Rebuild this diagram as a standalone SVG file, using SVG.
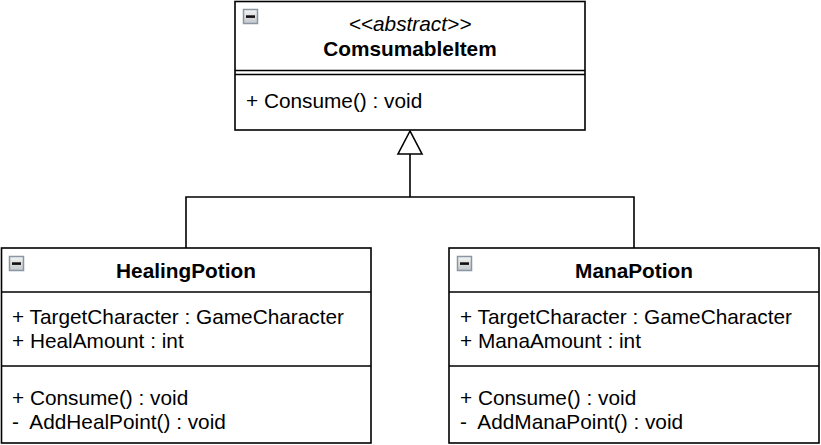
<svg xmlns="http://www.w3.org/2000/svg" width="821" height="445" viewBox="0 0 821 445">
<defs>
<linearGradient id="ig" x1="0" y1="0" x2="0" y2="1">
<stop offset="0" stop-color="#f4f4f4"/>
<stop offset="1" stop-color="#c4c8cc"/>
</linearGradient>
<g id="icon">
<rect x="0.5" y="0.5" width="14" height="14" fill="url(#ig)" stroke="#8a96a4" stroke-width="1.5"/>
<rect x="3" y="6.3" width="9" height="2.6" fill="#111"/>
</g>
</defs>
<style>
.box{fill:#fff;stroke:#000;stroke-width:1.6}
.ln{stroke:#000;stroke-width:1.6;fill:none}
text{font-family:"Liberation Sans",Arial,sans-serif;font-size:20.8px;fill:#000;white-space:pre}
.t{font-weight:bold;text-anchor:middle}
.st{font-style:italic;text-anchor:middle}
</style>
<g id="connectors">
<path class="ln" d="M186,248 V197 H634 V248 M410,197 V154"/>
<polygon points="410,131 398,154 422,154" fill="#fff" stroke="#000" stroke-width="1.6"/>
</g>
<g id="ComsumableItem">
<rect class="box" x="235" y="1.5" width="350" height="128.5"/>
<line class="ln" x1="235" y1="70.5" x2="585" y2="70.5"/>
<line class="ln" x1="235" y1="74.5" x2="585" y2="74.5"/>
<use href="#icon" x="243" y="9"/>
<text class="st" x="410" y="31">&lt;&lt;abstract&gt;&gt;</text>
<text class="t" x="410" y="56">ComsumableItem</text>
<text x="246" y="108">+ Consume() : void</text>
</g>
<g id="HealingPotion">
<rect class="box" x="1.5" y="248" width="369.5" height="195"/>
<line class="ln" x1="1.5" y1="292" x2="371" y2="292"/>
<line class="ln" x1="1.5" y1="366" x2="371" y2="366"/>
<use href="#icon" x="9" y="256"/>
<text class="t" x="186" y="278">HealingPotion</text>
<text x="12" y="324">+ TargetCharacter : GameCharacter</text>
<text x="12" y="348">+ HealAmount : int</text>
<text x="12" y="405">+ Consume() : void</text>
<text x="12" y="429" xml:space="preserve">-  AddHealPoint() : void</text>
</g>
<g id="ManaPotion">
<rect class="box" x="449" y="248" width="370" height="195"/>
<line class="ln" x1="449" y1="292" x2="819" y2="292"/>
<line class="ln" x1="449" y1="366" x2="819" y2="366"/>
<use href="#icon" x="457" y="256"/>
<text class="t" x="634" y="278">ManaPotion</text>
<text x="460" y="324">+ TargetCharacter : GameCharacter</text>
<text x="460" y="348">+ ManaAmount : int</text>
<text x="460" y="405">+ Consume() : void</text>
<text x="460" y="429" xml:space="preserve">-  AddManaPoint() : void</text>
</g>
</svg>
